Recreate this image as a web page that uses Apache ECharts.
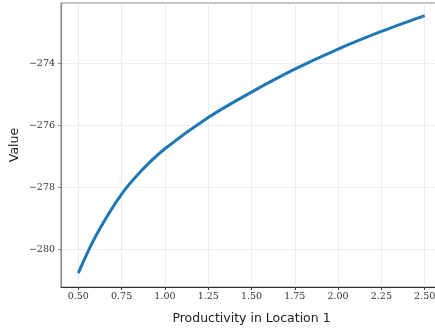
<!DOCTYPE html>
<html>
<head>
<meta charset="utf-8">
<script src="https://cdn.jsdelivr.net/npm/echarts@6/dist/echarts.min.js"></script>
<style>
    html, body { margin: 0; padding: 0; background: #fff; }
    #chart_main { width: 435px; height: 330px; }
</style>
</head>
<body>
<div id="chart_main"></div>
<script>
// values
var productivity = [0.5, 0.6, 0.75, 0.875, 1.0, 1.25, 1.5, 1.75, 2.0, 2.25, 2.5];
var valueData = [-280.77, -279.58, -278.22, -277.40, -276.75, -275.74, -274.92, -274.18, -273.53, -272.96, -272.45];
var xTicks = [0.5, 0.75, 1.0, 1.25, 1.5, 1.75, 2.0, 2.25, 2.5];
var yTicks = [-280, -278, -276, -274];

var chart_main = echarts.init(document.getElementById('chart_main'));

var lineData = [];
for (var i = 0; i < productivity.length; i++) {
    lineData.push([productivity[i], valueData[i]]);
}

var option = {
    animation: false,
    grid: {
        left: 61,
        top: 3,
        width: 381,
        height: 284,
        containLabel: false,
        outerBoundsMode: 'none',
        show: true,
        borderColor: '#8a8a8a',
        borderWidth: 1,
        backgroundColor: 'transparent'
    },
    xAxis: {
        type: 'value',
        min: 0.4,
        max: 2.6,
        name: 'Productivity in Location 1',
        nameLocation: 'middle',
        nameGap: 25,
        nameMoveOverlap: false,
        nameTextStyle: { fontFamily: 'DejaVu Sans', fontSize: 12.5, color: '#222' },
        axisLine: { show: true, lineStyle: { color: '#333', width: 1.2 } },
        axisTick: {
            show: true, length: 3, inside: false,
            customValues: xTicks,
            lineStyle: { color: '#333' }
        },
        axisLabel: {
            customValues: xTicks,
            margin: 5,
            fontFamily: 'DejaVu Serif',
            fontSize: 9.5,
            color: '#333',
            formatter: function (v) { return v.toFixed(2); }
        },
        splitLine: { show: true, lineStyle: { color: '#ececec', width: 1 } }
    },
    yAxis: {
        type: 'value',
        min: -281.22,
        max: -272.04,
        name: 'Value',
        nameLocation: 'middle',
        nameGap: 40,
        nameMoveOverlap: false,
        nameTextStyle: { fontFamily: 'DejaVu Sans', fontSize: 12.5, color: '#222' },
        axisLine: { show: true, lineStyle: { color: '#8a8a8a', width: 1.2 } },
        axisTick: {
            show: true, length: 3,
            customValues: yTicks,
            lineStyle: { color: '#8a8a8a' }
        },
        axisLabel: {
            customValues: yTicks,
            margin: 6,
            fontFamily: 'DejaVu Serif',
            fontSize: 9.5,
            color: '#333',
            formatter: function (v) { return '\u2212' + Math.abs(v); }
        },
        splitLine: { show: true, lineStyle: { color: '#ececec', width: 1 } }
    },
    series: [{
        type: 'line',
        data: lineData,
        smooth: 0.3,
        showSymbol: false,
        lineStyle: { color: '#1f77b4', width: 3 },
        itemStyle: { color: '#1f77b4' }
    }]
};
chart_main.setOption(option);
</script>
</body>
</html>
